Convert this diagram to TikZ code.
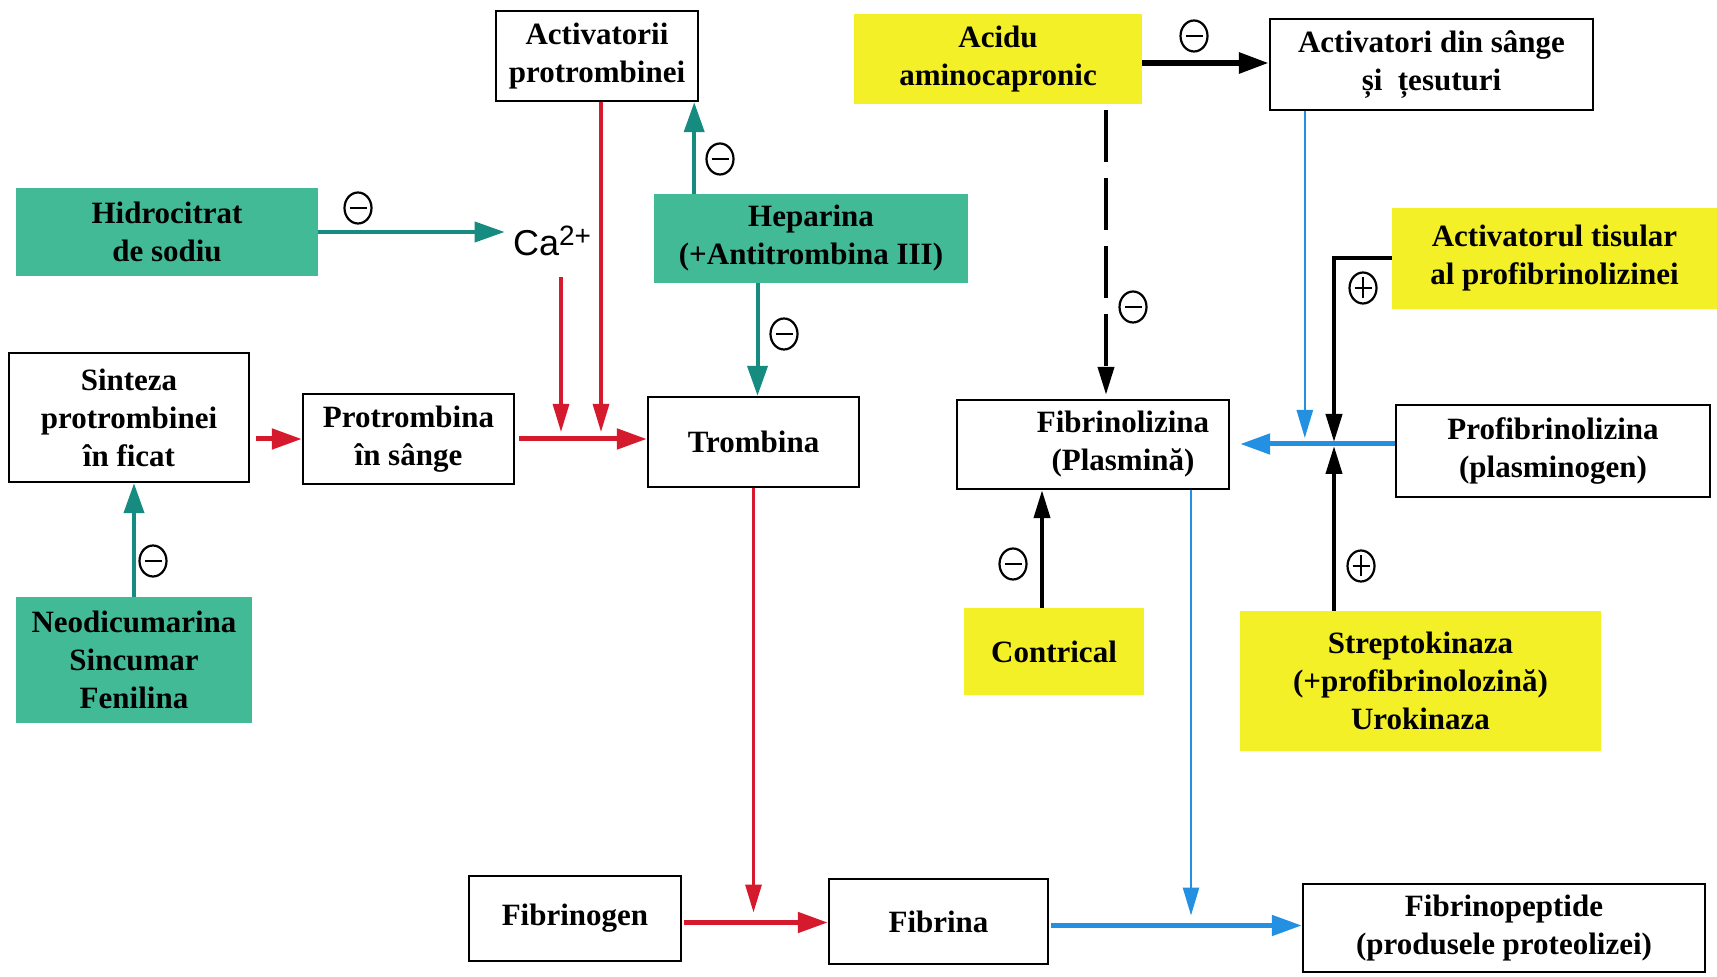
\documentclass[tikz,border=0pt]{standalone}
\usepackage{fontspec}
\setmainfont{Liberation Serif}
\newfontfamily\casans{Liberation Sans}
\usetikzlibrary{arrows.meta,shapes.geometric,calc}

\definecolor{tealfill}{RGB}{66,186,150}
\definecolor{yelfill}{RGB}{243,240,40}
\definecolor{redln}{RGB}{214,26,46}
\definecolor{blueln}{RGB}{36,144,226}
\definecolor{tealln}{RGB}{22,140,128}

\begin{document}
\begin{tikzpicture}[x=0.5pt,y=-0.5pt,
  font=\fontsize{15.5}{19}\selectfont\bfseries,
  wh/.style 2 args={minimum width=#1*0.5pt, minimum height=#2*0.5pt},
  box/.style={draw, line width=1.2pt, fill=white, align=center, inner sep=0pt},
  drug/.style={fill=tealfill, align=center, inner sep=0pt},
  yel/.style={fill=yelfill, align=center, inner sep=0pt},
  tipthick/.style={-{Triangle[length=15pt,width=10pt]}},
  tipthin/.style={-{Triangle[length=14pt,width=8pt]}},
  redthick/.style={draw=redln, line width=2.5pt, tipthick, color=redln},
  redthin/.style={draw=redln, line width=1.6pt, tipthin, color=redln},
  bluethick/.style={draw=blueln, line width=2.5pt, tipthick, color=blueln},
  bluethin/.style={draw=blueln, line width=1.3pt, tipthin, color=blueln},
  tealarr/.style={draw=tealln, line width=2pt, tipthick, color=tealln},
  blackthick/.style={draw=black, line width=3pt, tipthick},
  blackthin/.style={draw=black, line width=2pt, tipthin},
  negsign/.style={ellipse, draw, line width=1.1pt, minimum width=13.5pt, minimum height=15.5pt,
    inner sep=0pt, path picture={\draw[line width=1.4pt]
      ([xshift=2.5pt]path picture bounding box.west) -- ([xshift=-2.5pt]path picture bounding box.east);}},
  possign/.style={negsign, path picture={\draw[line width=1.2pt]
      ([xshift=2.5pt]path picture bounding box.west) -- ([xshift=-2.5pt]path picture bounding box.east)
      ([yshift=2.5pt]path picture bounding box.south) -- ([yshift=-2.5pt]path picture bounding box.north);}},
]
\useasboundingbox[fill=white] (0,0) rectangle (1717,977);

% coagulation side
\node[box, wh={202}{90}]  (actp)  at (597,56)    {Activatorii\\protrombinei};
\node[drug, wh={302}{88}] (hidro) at (167,232)   {Hidrocitrat\\de sodiu};
\node[inner sep=1pt, font=\casans\fontsize{18}{20}\selectfont] (ca) at (552,241) {Ca\raisebox{5pt}{\fontsize{14}{16}\selectfont 2+}};
\node[drug, wh={314}{89}] (hep)   at (811,238.5) {Heparina\\(+Antitrombina III)};
\node[box, wh={240}{129}] (sint)  at (129,417.5) {Sinteza\\protrombinei\\în ficat};
\node[box, wh={211}{90}]  (prot)  at (408.5,439) {Protrombina\\în sânge};
\node[box, wh={211}{90}]  (tromb) at (753.5,442) {Trombina};
\node[drug, wh={236}{126}] (neo)  at (134,660)   {Neodicumarina\\Sincumar\\Fenilina};
\node[box, wh={212}{85}]  (fgen)  at (575,918.5) {Fibrinogen};
\node[box, wh={219}{85}]  (fina)  at (938.5,921.5) {Fibrina};
\node[box, wh={402}{88}]  (fpep)  at (1504,928)  {Fibrinopeptide\\(produsele proteolizei)};

% fibrinolysis side
\node[yel, wh={288}{90}]  (acid)   at (998,59)     {Acidu\\aminocapronic};
\node[box, wh={323}{91}]  (actsg)  at (1431.5,64.5) {Activatori din sânge\\și\ \ țesuturi};
\node[yel, wh={325}{101}] (acttis) at (1554.5,258.5) {Activatorul tisular\\al profibrinolizinei};
\node[box, wh={272}{89}]  (fliz)   at (1093,444.5) {\hspace*{30pt}Fibrinolizina\\\hspace*{30pt}(Plasmină)};
\node[box, wh={314}{92}]  (profl)  at (1553,451)   {Profibrinolizina\\(plasminogen)};
\node[yel, wh={180}{87}]  (contr)  at (1054,651.5) {Contrical};
\node[yel, wh={361}{140}] (strep)  at (1420.5,681) {Streptokinaza\\(+profibrinolozină)\\Urokinaza};

% junctions on the horizontal lines
\coordinate (ca2) at (561,432);
\coordinate (jn)  at (1334,444);

% coagulation arrows
\draw[tealarr, shorten >=3pt] (hidro.east) -- (hidro.east -| ca.west);
\draw[redthin] ([xshift=4.5pt,yshift=-18pt]ca.center) -- (ca2);
\draw[redthin] ([xshift=2pt]actp.south) -- ([xshift=2pt]actp.south |- ca2);
\coordinate (hu) at ([xshift=-2.5pt]actp.south east);
\draw[tealarr] (hu |- hep.north) -- (hu);
\draw[tealarr] ([xshift=2pt]tromb.north |- hep.south) -- ([xshift=2pt]tromb.north);
\draw[redthick, shorten <=3pt] (sint.east |- prot.west) -- (prot.west);
\draw[redthick, shorten <=2pt] (prot.east) -- (prot.east -| tromb.west);
\draw[tealarr] (neo.north) -- (neo.north |- sint.south);
\draw[redthin, shorten >=3pt] (tromb.south) -- (tromb.south |- fgen.east);
\draw[redthick, shorten <=1pt] ([yshift=-2pt]fgen.east) -- ([yshift=-2pt]fgen.east -| fina.west);

% fibrinolysis arrows
\draw[blackthick] ([yshift=-2pt]acid.east) -- ([yshift=-2pt]acid.east -| actsg.west);
\coordinate (dtop) at ([xshift=6.5pt]fliz.north);
\draw[blackthin, dash pattern=on 26pt off 8pt, shorten <=3pt, shorten >=2pt] (dtop |- acid.south) -- (dtop);
\coordinate (bl1) at ([xshift=18pt]actsg.south west);
\draw[bluethin, shorten >=3pt] (bl1) -- (bl1 |- jn);
\draw[blackthin, shorten >=1pt] (acttis.west) -| (jn);
\draw[blackthin, shorten >=1pt] (jn |- strep.north) -- (jn);
\draw[bluethick, shorten >=5pt] (profl.west |- jn) -- (fliz.east |- jn);
\coordinate (ct) at ([xshift=-6pt]contr.north);
\draw[blackthin] (ct) -- (ct |- fliz.south);
\coordinate (fb) at ([xshift=49pt]fliz.south);
\draw[bluethin, shorten >=3pt] (fb) -- (fb |- fina.east);
\draw[bluethick, shorten <=1pt] ([yshift=-2pt]fina.east) -- ([yshift=-2pt]fina.east -| fpep.west);

% inhibition / activation marks
\node[negsign] (s1) at (358,208)  {};
\node[negsign] (s2) at (720,159)  {};
\node[negsign] (s3) at (784,334)  {};
\node[negsign] (s4) at (153,561)  {};
\node[negsign] (s5) at (1194,36)  {};
\node[negsign] (s6) at (1133,307) {};
\node[possign] (s7) at (1363,288) {};
\node[possign] (s8) at (1361,566) {};
\node[negsign] (s9) at (1013,564) {};
\end{tikzpicture}
\end{document}
